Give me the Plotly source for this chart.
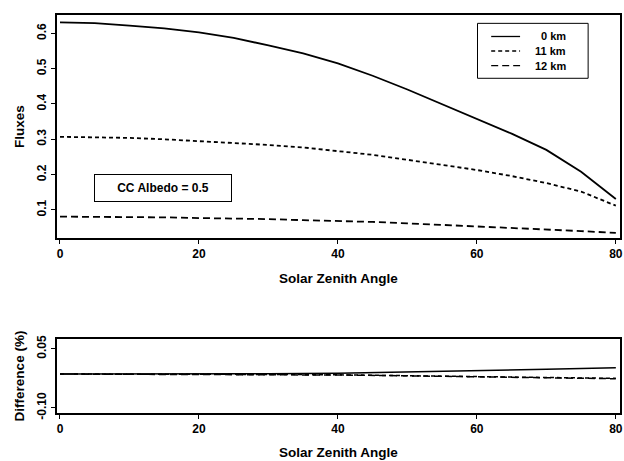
import plotly.graph_objects as go

angles = [0, 5, 10, 15, 20, 25, 30, 35, 40, 45, 50, 55, 60, 65, 70, 75, 80]
flux_0km = [0.631, 0.629, 0.622, 0.614, 0.603, 0.587, 0.566, 0.543, 0.515, 0.480,
            0.441, 0.400, 0.358, 0.316, 0.270, 0.208, 0.131]
flux_11km = [0.307, 0.306, 0.304, 0.300, 0.295, 0.290, 0.284, 0.277, 0.267, 0.256,
             0.242, 0.228, 0.213, 0.196, 0.176, 0.152, 0.112]
flux_12km = [0.081, 0.081, 0.080, 0.079, 0.077, 0.076, 0.074, 0.071, 0.069, 0.066,
             0.062, 0.058, 0.053, 0.049, 0.044, 0.040, 0.035]

diff_angles = [0, 10, 20, 30, 40, 50, 60, 70, 80]
diff_0km = [-0.014, -0.014, -0.0135, -0.013, -0.012, -0.009, -0.006, -0.002, 0.002]
diff_11km = [-0.014, -0.014, -0.0145, -0.015, -0.016, -0.018, -0.020, -0.022, -0.025]
diff_12km = [-0.014, -0.0142, -0.0148, -0.0155, -0.0165, -0.0185, -0.0205, -0.023, -0.026]

names = ["0 km", "11 km", "12 km"]
dashes = ["solid", "4px,3px", "7px,4px"]

FONT = "Liberation Sans, Arial, sans-serif"

fig = go.Figure()
for ys, nm, ds in zip([flux_0km, flux_11km, flux_12km], names, dashes):
    fig.add_trace(go.Scatter(x=angles, y=ys, mode="lines", name=nm, showlegend=False,
                             line=dict(color="black", width=1.8, dash=ds),
                             xaxis="x", yaxis="y"))
for ys, nm, ds in zip([diff_0km, diff_11km, diff_12km], names, dashes):
    fig.add_trace(go.Scatter(x=diff_angles, y=ys, mode="lines", name=nm,
                             showlegend=False,
                             line=dict(color="black", width=1.5, dash=ds),
                             xaxis="x2", yaxis="y2"))

axis_common = dict(showline=True, mirror=True, linecolor="black", linewidth=1.5,
                   ticks="outside", ticklen=4, tickcolor="black", tickwidth=1,
                   showgrid=False, zeroline=False,
                   tickfont=dict(family=FONT, size=12, color="black", weight="bold"))
title_font = dict(family=FONT, size=13.5, color="black", weight="bold")

# manual legend (paper coordinates)
shapes = [dict(type="rect", xref="paper", yref="paper", x0=0.7469, x1=0.9434,
               y0=0.841, y1=0.979, line=dict(color="black", width=1),
               fillcolor="white", layer="above")]
annotations = []
legend_rows = [0.9460, 0.9095, 0.8730]
for nm, ds, yr in zip(names, dashes, legend_rows):
    shapes.append(dict(type="line", xref="paper", yref="paper", x0=0.7712, x1=0.8225,
                       y0=yr, y1=yr, line=dict(color="black", width=1.3, dash=ds),
                       layer="above"))
    annotations.append(dict(text=nm, xref="paper", yref="paper", x=0.908, y=yr,
                            xanchor="right", yanchor="middle", showarrow=False,
                            font=dict(family=FONT, size=11, color="black", weight="bold")))

annotations.append(dict(text="CC Albedo = 0.5", xref="x", yref="y", x=14.86, y=0.161,
                        showarrow=False, bordercolor="black", borderwidth=1,
                        borderpad=6, width=124, bgcolor="white",
                        font=dict(family=FONT, size=12, color="black", weight="bold")))

fig.update_layout(
    width=624, height=461,
    margin=dict(l=57, r=2, t=15, b=48),
    paper_bgcolor="white", plot_bgcolor="white",
    font=dict(family=FONT, color="black"),
    showlegend=False,
    xaxis=dict(domain=[0, 1], range=[-0.43, 80.6], anchor="y",
               tickvals=[0, 20, 40, 60, 80],
               title=dict(text="Solar Zenith Angle", standoff=13, font=title_font),
               **axis_common),
    yaxis=dict(domain=[0.4397, 1], range=[0.0205, 0.652], anchor="x",
               tickvals=[0.1, 0.2, 0.3, 0.4, 0.5, 0.6], tickangle=-90,
               title=dict(text="Fluxes", standoff=8, font=title_font),
               **axis_common),
    xaxis2=dict(domain=[0, 1], range=[-0.43, 80.6], anchor="y2",
                tickvals=[0, 20, 40, 60, 80],
                title=dict(text="Solar Zenith Angle", standoff=12, font=title_font),
                **axis_common),
    yaxis2=dict(domain=[0, 0.1859], range=[-0.113, 0.075], anchor="x2",
                tickvals=[-0.10, 0.05], ticktext=["-0.10", "0.05"], tickangle=-90,
                title=dict(text="Difference (%)", standoff=8, font=title_font),
                **axis_common),
    shapes=shapes,
    annotations=annotations,
)

fig.write_html("out.html")
